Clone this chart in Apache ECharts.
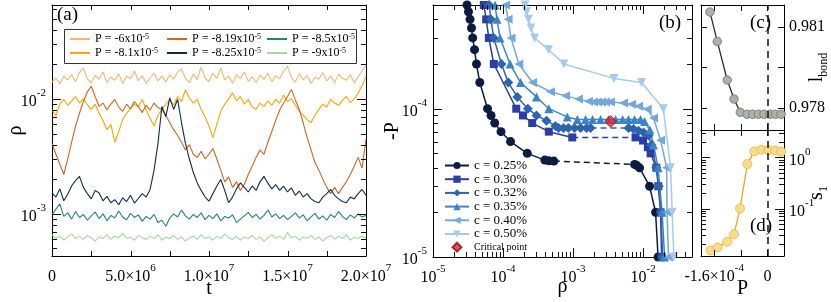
<!DOCTYPE html>
<html><head><meta charset="utf-8">
<script src="https://cdn.jsdelivr.net/npm/echarts@6/dist/echarts.min.js"></script>
<style>html,body{margin:0;padding:0;background:#fff}#c{width:831px;height:302px}</style>
</head><body><div id="c"></div>
<script>
// ================= DATA =================
// Panel (a): rho(t), sampled every T_STEP
const T_STEP = 2.5e5;
const rhoP600 = [0.0140,0.0152,0.0135,0.0158,0.0146,0.0163,0.0141,0.0170,0.0185,0.0150,0.0138,0.0160,0.0148,0.0172,0.0139,0.0155,0.0145,0.0166,0.0136,0.0158,0.0150,0.0175,0.0143,0.0160,0.0137,0.0152,0.0168,0.0144,0.0157,0.0140,0.0162,0.0149,0.0171,0.0182,0.0150,0.0138,0.0165,0.0147,0.0190,0.0152,0.0141,0.0168,0.0150,0.0186,0.0146,0.0158,0.0137,0.0163,0.0150,0.0172,0.0142,0.0156,0.0139,0.0161,0.0148,0.0167,0.0141,0.0159,0.0150,0.0174,0.0192,0.0153,0.0140,0.0166,0.0146,0.0160,0.0136,0.0155,0.0148,0.0170,0.0143,0.0158,0.0139,0.0164,0.0151,0.0145,0.0162,0.0138,0.0156,0.0175,0.0195];
const rhoP810 = [0.0081,0.0071,0.0090,0.0099,0.0088,0.0096,0.0105,0.0092,0.0100,0.0089,0.0081,0.0090,0.0075,0.0065,0.0054,0.0060,0.0042,0.0052,0.0066,0.0075,0.0082,0.0090,0.0085,0.0099,0.0080,0.0068,0.0058,0.0072,0.0081,0.0090,0.0098,0.0088,0.0105,0.0095,0.0120,0.0102,0.0092,0.0099,0.0081,0.0070,0.0058,0.0046,0.0060,0.0078,0.0090,0.0100,0.0113,0.0096,0.0105,0.0090,0.0099,0.0085,0.0081,0.0092,0.0086,0.0096,0.0088,0.0099,0.0092,0.0108,0.0095,0.0100,0.0088,0.0078,0.0072,0.0066,0.0062,0.0072,0.0081,0.0090,0.0085,0.0099,0.0092,0.0088,0.0097,0.0105,0.0093,0.0100,0.0112,0.0130,0.0157];
const rhoP819 = [0.0041,0.0033,0.0027,0.0022,0.0030,0.0042,0.0058,0.0075,0.0095,0.0115,0.0129,0.0105,0.0086,0.0092,0.0080,0.0090,0.0099,0.0085,0.0078,0.0090,0.0082,0.0095,0.0086,0.0076,0.0088,0.0080,0.0092,0.0084,0.0081,0.0072,0.0062,0.0054,0.0048,0.0042,0.0036,0.0040,0.0033,0.0031,0.0035,0.0030,0.0033,0.0037,0.0030,0.0024,0.0019,0.0021,0.0017,0.0019,0.0016,0.0018,0.0022,0.0026,0.0031,0.0036,0.0033,0.0042,0.0052,0.0065,0.0080,0.0092,0.0105,0.0121,0.0098,0.0081,0.0062,0.0046,0.0036,0.0028,0.0024,0.0020,0.0017,0.0015,0.0017,0.0015,0.0017,0.0019,0.0022,0.0026,0.0031,0.0025,0.0045];
const rhoP825 = [0.00152,0.00140,0.00165,0.00130,0.00148,0.00175,0.00195,0.00212,0.00170,0.00150,0.00135,0.00160,0.00152,0.00130,0.00142,0.00125,0.00133,0.00120,0.00138,0.00128,0.00145,0.00124,0.00136,0.00150,0.00140,0.00163,0.00240,0.00410,0.00860,0.00700,0.01020,0.00810,0.00990,0.00620,0.00410,0.00300,0.00230,0.00186,0.00160,0.00140,0.00129,0.00150,0.00175,0.00199,0.00160,0.00125,0.00140,0.00165,0.00186,0.00170,0.00155,0.00175,0.00160,0.00190,0.00212,0.00185,0.00165,0.00180,0.00160,0.00174,0.00155,0.00168,0.00145,0.00158,0.00140,0.00150,0.00135,0.00128,0.00125,0.00140,0.00150,0.00163,0.00145,0.00135,0.00128,0.00125,0.00140,0.00135,0.00150,0.00163,0.00145];
const rhoP850 = [0.00098,0.00110,0.00122,0.00095,0.00102,0.00090,0.00105,0.00093,0.00099,0.00088,0.00096,0.00104,0.00091,0.00100,0.00087,0.00097,0.00092,0.00106,0.00094,0.00089,0.00101,0.00093,0.00098,0.00086,0.00095,0.00090,0.00099,0.00084,0.00088,0.00078,0.00092,0.00100,0.00094,0.00108,0.00096,0.00090,0.00099,0.00093,0.00102,0.00089,0.00097,0.00091,0.00100,0.00087,0.00095,0.00092,0.00098,0.00084,0.00090,0.00096,0.00103,0.00093,0.00099,0.00090,0.00097,0.00108,0.00094,0.00100,0.00091,0.00097,0.00089,0.00095,0.00102,0.00092,0.00098,0.00087,0.00094,0.00101,0.00090,0.00096,0.00088,0.00099,0.00093,0.00105,0.00095,0.00089,0.00098,0.00092,0.00100,0.00094,0.00097];
const rhoP900 = [0.00066,0.00061,0.00064,0.00059,0.00063,0.00067,0.00061,0.00064,0.00060,0.00065,0.00062,0.00058,0.00063,0.00061,0.00066,0.00060,0.00064,0.00062,0.00068,0.00061,0.00063,0.00059,0.00065,0.00062,0.00060,0.00064,0.00061,0.00066,0.00059,0.00063,0.00061,0.00065,0.00060,0.00063,0.00058,0.00062,0.00064,0.00060,0.00066,0.00061,0.00063,0.00059,0.00064,0.00061,0.00067,0.00062,0.00060,0.00064,0.00059,0.00063,0.00061,0.00065,0.00060,0.00063,0.00058,0.00062,0.00066,0.00061,0.00064,0.00060,0.00069,0.00062,0.00064,0.00059,0.00063,0.00061,0.00065,0.00060,0.00063,0.00058,0.00062,0.00065,0.00060,0.00064,0.00061,0.00066,0.00059,0.00063,0.00061,0.00064,0.00062];

// Panel (b): -P vs rho for each concentration (two branches where a jump occurs)
const rho025a = [3.06e-5,3.21e-5,3.38e-5,3.55e-5,3.69e-5,3.92e-5,4.18e-5,4.66e-5,6.01e-5,6.74e-5,7.61e-5,9.36e-5,1.28e-4,2.22e-4,3.95e-4,4.51e-4,5.32e-4];
const negP025a = [5e-4,4.5e-4,4e-4,3.5e-4,3e-4,2.5e-4,2e-4,1.5e-4,1e-4,9e-5,8e-5,7e-5,6e-5,5e-5,4.5e-5,4.45e-5,4.43e-5];
const rho025b = [7.57e-3,8.08e-3,8.92e-3,0.01239,0.0151,0.01638];
const negP025b = [4.21e-5,4.15e-5,3.99e-5,3e-5,2e-5,1e-5];

const rho030a = [5.32e-5,5.75e-5,6.27e-5,7.39e-5,1.545e-4,1.93e-4,2.61e-4,4.51e-4,9.75e-4];
const negP030a = [5e-4,4e-4,3e-4,2e-4,1e-4,9e-5,8e-5,7e-5,6.4e-5];
const rho030b = [7.81e-3,0.0100,0.01172,0.0128,0.01545,0.0165,0.0178,0.0184];
const negP030b = [6.4e-5,6.1e-5,5.5e-5,5e-5,4e-5,3e-5,2e-5,1e-5];

const rho032a = [6.35e-5,6.7e-5,7.39e-5,9.5e-5,1.19e-4,1.6e-4,2.26e-4,3.01e-4,4.18e-4,5.6e-4,6.2e-4,7.3e-4,8.6e-4,1.05e-3,1.28e-3,1.56e-3,1.78e-3];
const negP032a = [5e-4,4e-4,3e-4,2e-4,1.5e-4,1.2e-4,1e-4,9e-5,8.3e-5,7.65e-5,7.4e-5,7.4e-5,7.4e-5,7.4e-5,7.4e-5,7.4e-5,7.4e-5];
const rho032b = [6.21e-3,7.3e-3,8.62e-3,0.01017,0.0120,0.0132,0.0155,0.0168,0.0181,0.0190];
const negP032b = [7.4e-5,7.3e-5,7.1e-5,6.9e-5,6.6e-5,5.7e-5,4e-5,3e-5,2e-5,1e-5];

const rho035 = [7.69e-5,8.2e-5,9.06e-5,1.26e-4,1.78e-4,3.01e-4,4.51e-4,8.26e-4,1.15e-3,1.51e-3,1.9e-3,2.47e-3,3.2e-3,4.05e-3,5.1e-3,6.2e-3,7.57e-3,9.2e-3,0.0105,0.0125,0.0141,0.0164,0.0187,0.0203];
const negP035 = [5e-4,4e-4,3e-4,2e-4,1.5e-4,1.2e-4,1e-4,8.8e-5,8.45e-5,8.45e-5,8.45e-5,8.45e-5,8.45e-5,8.45e-5,8.45e-5,8.45e-5,8.45e-5,8.45e-5,8.2e-5,7.2e-5,5.7e-5,4e-5,2e-5,1e-5];

const rho040 = [1.086e-4,1.18e-4,1.30e-4,1.68e-4,2.64e-4,4.77e-4,7.81e-4,1.2e-3,1.66e-3,1.96e-3,2.24e-3,2.55e-3,2.91e-3,3.43e-3,5.26e-3,6.85e-3,8.62e-3,0.01148,0.0141,0.0178,0.0217,0.0220,0.0231];
const negP040 = [5e-4,4e-4,3e-4,2e-4,1.5e-4,1.3e-4,1.22e-4,1.16e-4,1.12e-4,1.11e-4,1.11e-4,1.11e-4,1.11e-4,1.11e-4,1.09e-4,1.07e-4,1.04e-4,9.9e-5,8.65e-5,6.13e-5,4e-5,2e-5,1e-5];

const rho050 = [2.06e-4,2.17e-4,2.31e-4,2.51e-4,2.82e-4,4.47e-4,7.4e-4,3.83e-3,9.53e-3,0.01945,0.0247,0.0261,0.0275];
const negP050 = [5e-4,4.5e-4,4e-4,3.5e-4,3e-4,2.5e-4,2e-4,1.6e-4,1.5e-4,1e-4,4e-5,2e-5,1e-5];

const rhoCrit = [3.44e-3];
const negPCrit = [8.19e-5];

// Panels (c) and (d)
const pC = [-1.73e-4,-1.51e-4,-1.21e-4,-1.006e-4,-0.816e-4,-0.613e-4,-0.441e-4,-0.272e-4,-0.100e-4,0.073e-4,0.242e-4,0.414e-4];
const lBond = [0.98154,0.98046,0.97904,0.97834,0.97785,0.97778,0.97778,0.97778,0.97778,0.97778,0.97778,0.97778];
const pD = [-1.71e-4,-1.50e-4,-1.21e-4,-1.006e-4,-0.825e-4,-0.604e-4,-0.393e-4,-0.181e-4,0.03e-4,0.233e-4,0.414e-4];
const s1 = [0.0152,0.0174,0.0225,0.0313,0.1,0.739,1.31,1.41,1.39,1.37,1.29];
const P_CRIT = -8.2e-5;

// Tick values and labels
const aXTicks = [2.5e6,5e6,7.5e6,1e7,1.25e7,1.5e7,1.75e7];
const aXLabels = {0:'0',5e6:'5.0×10{s|6}',1e7:'1.0×10{s|7}',1.5e7:'1.5×10{s|7}',2e7:'2.0×10{s|7}'};
const aYMajor = [1e-3, 1e-2];
const bXMajor = [1e-4, 1e-3, 1e-2];
const bYMajor = [1e-4];
const dYMajor = [1e-1, 1];
const cTicks = [0.978, 0.9795, 0.981];
const cLabels = [0.978, 0.981];
const pTicks = [-1.6e-4, -0.8e-4, 0];
const pLabels = [-1.6e-4, 0];

// ================= CHART =================
const FONT = '"Liberation Serif","Times New Roman",serif';
const chart = echarts.init(document.getElementById('c'), null, {renderer:'canvas'});
const RICH = {
  b: {fontFamily: FONT, fontSize: 16, color:'#000', lineHeight: 22, verticalAlign:'bottom'},
  s: {fontFamily: FONT, fontSize: 11, color:'#000', lineHeight: 11, verticalAlign:'top'}
};
function logLabel(v){
  const e = Math.log10(v);
  if (Math.abs(e - Math.round(e)) > 1e-6) return '';
  return '{b|10}{s|' + Math.round(e) + '}';
}
function minorLog(lo, hi){
  const out = [];
  for (let e = Math.floor(Math.log10(lo)); e <= Math.ceil(Math.log10(hi)); e++){
    for (let k = 2; k <= 9; k++){ const v = k*Math.pow(10,e); if (v > lo && v < hi) out.push(v); }
  }
  return out;
}
const AX = {color:'#000', width:1};
function baseAxis(o){
  return Object.assign({
    axisLine:{show:true, onZero:false, lineStyle:AX},
    axisTick:{show:false},
    axisLabel:{show:false, fontFamily:FONT, fontSize:16, color:'#000', rich:RICH},
    splitLine:{show:false},
    nameMoveOverlap:false,
    nameTextStyle:{fontFamily:FONT, fontSize:20, color:'#000'}
  }, o);
}
function merge(a,b){ const r = Object.assign({}, a); for (const k in b){ if (b[k] && typeof b[k]==='object' && !Array.isArray(b[k]) && a[k]) r[k] = Object.assign({}, a[k], b[k]); else r[k]=b[k]; } return r; }

const A_YMIN = 4.3e-4, A_YMAX = 0.0656;
const B_XMIN = 1e-5, B_XMAX = 0.05, B_YMIN = 1e-5, B_YMAX = 5e-4;
const C_YMIN = 0.9772, C_YMAX = 0.9818;
const D_YMIN = 0.0118, D_YMAX = 3.43;
const P_MIN = -2e-4, P_MAX = 0.5e-4;

const grids = [
  {left:52, top:5, width:314, height:251, outerBoundsMode:'none', containLabel:false},
  {left:433, top:5, width:259, height:252, outerBoundsMode:'none', containLabel:false},
  {left:701, top:5, width:83, height:125, outerBoundsMode:'none', containLabel:false},
  {left:701, top:130, width:83, height:126, outerBoundsMode:'none', containLabel:false}
];

const xAxes = [
  merge(baseAxis({gridIndex:0, type:'value', min:0, max:2e7, interval:2.5e6, name:'t', nameLocation:'middle', nameGap:23}),
    {axisLabel:{show:true, margin:7, formatter:v => aXLabels[v] !== undefined ? (v===0?'{b|0}':'{b|'+aXLabels[v].replace('{s|','}{s|')) : ''}}),
  baseAxis({gridIndex:0, type:'value', position:'top', min:0, max:2e7}),
  merge(baseAxis({gridIndex:1, type:'log', min:B_XMIN, max:B_XMAX, name:'ρ', nameLocation:'middle', nameGap:20}),
    {axisLabel:{show:true, margin:7, formatter:logLabel}}),
  baseAxis({gridIndex:1, type:'log', position:'top', min:B_XMIN, max:B_XMAX}),
  baseAxis({gridIndex:2, type:'value', min:P_MIN, max:P_MAX}),
  merge(baseAxis({gridIndex:3, type:'value', min:P_MIN, max:P_MAX, name:'P', nameLocation:'middle', nameGap:23}),
    {axisLabel:{show:true, margin:7, customValues:pLabels,
      formatter:v => Math.abs(v) < 1e-12 ? '{b|0}' : '{b|-1.6×10}{s|-4}'}}),
  baseAxis({gridIndex:2, type:'value', position:'top', min:P_MIN, max:P_MAX}),
  baseAxis({gridIndex:3, type:'value', position:'top', min:P_MIN, max:P_MAX})
];

const SUBRICH = {sub:{fontFamily:FONT, fontSize:12, color:'#000', verticalAlign:'bottom', lineHeight:26}};
const yAxes = [
  merge(baseAxis({gridIndex:0, type:'log', min:A_YMIN, max:A_YMAX, name:'ρ', nameLocation:'middle', nameGap:26, nameRotate:90}),
    {axisLabel:{show:true, margin:6, formatter:logLabel}}),
  baseAxis({gridIndex:0, type:'log', position:'right', min:A_YMIN, max:A_YMAX}),
  merge(baseAxis({gridIndex:1, type:'log', min:B_YMIN, max:B_YMAX, name:'-P', nameLocation:'middle', nameGap:30, nameRotate:90}),
    {axisLabel:{show:true, margin:6, formatter:logLabel}}),
  baseAxis({gridIndex:1, type:'log', position:'right', min:B_YMIN, max:B_YMAX}),
  merge(baseAxis({gridIndex:2, type:'value', position:'right', min:C_YMIN, max:C_YMAX, name:'l{sub|bond}', nameLocation:'middle', nameGap:20, nameRotate:90}),
    {axisLabel:{show:true, margin:5, customValues:cLabels, formatter:v => v.toFixed(3), fontSize:16, rich:{}},
     nameTextStyle:{rich:SUBRICH, lineHeight:20}}),
  baseAxis({gridIndex:2, type:'value', position:'left', min:C_YMIN, max:C_YMAX}),
  merge(baseAxis({gridIndex:3, type:'log', position:'right', min:D_YMIN, max:D_YMAX, name:'s{sub|1}', nameLocation:'middle', nameGap:20, nameRotate:90}),
    {axisLabel:{show:true, margin:5, formatter:logLabel}, nameTextStyle:{rich:SUBRICH, lineHeight:20}}),
  baseAxis({gridIndex:3, type:'log', position:'left', min:D_YMIN, max:D_YMAX})
];

// tick-mark series: mirrored inward ticks placed through the axes' own scales
function tickSeries(xi, yi, vals, dir, ref, len){
  return {
    type:'custom', xAxisIndex:xi, yAxisIndex:yi, silent:true, z:5, clip:false,
    data: vals.map(v => dir==='y' ? [ref, v] : [v, ref]),
    renderItem:(params, api) => {
      const cs = params.coordSys;
      const p = api.coord([api.value(0), api.value(1)]);
      const st = {stroke:'#111', lineWidth:1};
      if (dir==='y'){
        const y = Math.round(p[1])+0.5;
        return {type:'group', children:[
          {type:'line', shape:{x1:cs.x, y1:y, x2:cs.x+len, y2:y}, style:st},
          {type:'line', shape:{x1:cs.x+cs.width, y1:y, x2:cs.x+cs.width-len, y2:y}, style:st}]};
      }
      const x = Math.round(p[0])+0.5;
      return {type:'group', children:[
        {type:'line', shape:{x1:x, y1:cs.y+cs.height, x2:x, y2:cs.y+cs.height-len}, style:st},
        {type:'line', shape:{x1:x, y1:cs.y, x2:x, y2:cs.y+len}, style:st}]};
    }
  };
}

const tsCols = {P600:'#f2b872', P810:'#f9a602', P819:'#d0671c', P825:'#0f2b48', P850:'#1b8a6f', P900:'#a3d99f'};
const tsNames = {P600:'P = -6x10{s|-5}', P810:'P = -8.1x10{s|-5}', P819:'P = -8.19x10{s|-5}', P825:'P = -8.25x10{s|-5}', P850:'P = -8.5x10{s|-5}', P900:'P = -9x10{s|-5}'};
const tsData = {P600:rhoP600, P810:rhoP810, P819:rhoP819, P825:rhoP825, P850:rhoP850, P900:rhoP900};
const series = [];
['P600','P810','P819','P825','P850','P900'].forEach(k => {
  series.push({type:'line', name:k, xAxisIndex:0, yAxisIndex:0, symbol:'none', z:3,
    lineStyle:{color:tsCols[k], width:1.1}, itemStyle:{color:tsCols[k]},
    data: tsData[k].map((v,i) => [i*T_STEP, v])});
});

const zip = (xs, ys) => xs.map((x,i) => [x, ys[i]]);
const bSets = [
  {name:'c = 0.25%', col:'#0b1c40', sym:'circle', size:9, a:[rho025a,negP025a], b:[rho025b,negP025b]},
  {name:'c = 0.30%', col:'#2a3ea6', sym:'rect', size:8, a:[rho030a,negP030a], b:[rho030b,negP030b]},
  {name:'c = 0.32%', col:'#2e63ad', sym:'diamond', size:10, a:[rho032a,negP032a], b:[rho032b,negP032b]},
  {name:'c = 0.35%', col:'#3d84c6', sym:'triangle', size:9, a:[rho035,negP035]},
  {name:'c = 0.40%', col:'#74a8db', sym:'path://M0,5L10,0L10,10Z', size:9, a:[rho040,negP040]},
  {name:'c = 0.50%', col:'#a6cbea', sym:'path://M0,0L10,0L5,10Z', size:9, a:[rho050,negP050]}
];
bSets.forEach(s => {
  const common = {type:'line', name:s.name, xAxisIndex:2, yAxisIndex:2, symbol:s.sym, symbolSize:s.size, z:4,
    lineStyle:{color:s.col, width:1.5}, itemStyle:{color:s.col}, emphasis:{disabled:true}};
  series.push(Object.assign({}, common, {data:zip(s.a[0], s.a[1])}));
  if (s.b){
    series.push(Object.assign({}, common, {data:zip(s.b[0], s.b[1])}));
    const e = s.a[0].length-1;
    series.push({type:'line', name:s.name+' link', xAxisIndex:2, yAxisIndex:2, symbol:'none', z:3,
      lineStyle:{color:s.col, width:1.5, type:[6,4]}, data:[[s.a[0][e], s.a[1][e]],[s.b[0][0], s.b[1][0]]]});
  }
});
series.push({type:'scatter', name:'Critical point', xAxisIndex:2, yAxisIndex:2, symbol:'diamond', symbolSize:12, z:6,
  itemStyle:{color:'#e3262a', borderColor:'#8a1010', borderWidth:0.8}, data:zip(rhoCrit, negPCrit)});

series.push({type:'line', name:'lbond', xAxisIndex:4, yAxisIndex:4, symbol:'circle', symbolSize:8.5, z:4,
  lineStyle:{color:'#2b2b2b', width:1.3}, itemStyle:{color:'#aeb1aa', borderColor:'#6e716b', borderWidth:0.8},
  data:zip(pC, lBond),
  markLine:{silent:true, symbol:'none', label:{show:false}, lineStyle:{color:'#111', width:1.5, type:[7,5]}, data:[{xAxis:P_CRIT}]}});
series.push({type:'line', name:'s1', xAxisIndex:5, yAxisIndex:6, symbol:'circle', symbolSize:9, z:4,
  lineStyle:{color:'#f7a21b', width:1.3}, itemStyle:{color:'#f8dc8e', borderColor:'#f0b040', borderWidth:0.8},
  data:zip(pD, s1),
  markLine:{silent:true, symbol:'none', label:{show:false}, lineStyle:{color:'#111', width:1.5, type:[7,5]}, data:[{xAxis:P_CRIT}]}});

// ticks: (a)
series.push(tickSeries(0, 0, aXTicks, 'x', 1e-3, 5));
series.push(tickSeries(0, 0, aYMajor, 'y', 1e6, 9));
series.push(tickSeries(0, 0, minorLog(A_YMIN, A_YMAX), 'y', 1e6, 5));
// (b)
series.push(tickSeries(2, 2, bXMajor, 'x', 1e-4, 9));
series.push(tickSeries(2, 2, minorLog(B_XMIN, B_XMAX), 'x', 1e-4, 5));
series.push(tickSeries(2, 2, bYMajor, 'y', 1e-3, 9));
series.push(tickSeries(2, 2, minorLog(B_YMIN, B_YMAX), 'y', 1e-3, 5));
// (c)
series.push(tickSeries(4, 4, pTicks, 'x', 0.979, 6));
series.push(tickSeries(4, 4, cTicks, 'y', -1e-4, 6));
// (d)
series.push(tickSeries(5, 6, pTicks, 'x', 0.1, 6));
series.push(tickSeries(5, 6, dYMajor, 'y', -1e-4, 9));
series.push(tickSeries(5, 6, minorLog(D_YMIN, D_YMAX), 'y', -1e-4, 5));

const legText = {fontFamily:FONT, fontSize:12, color:'#000', lineHeight:12, rich:{s:{fontFamily:FONT, fontSize:8, color:'#000', verticalAlign:'top', lineHeight:8}}};
function tsLegend(left, names){
  return {orient:'vertical', left:left, top:33, padding:0, itemWidth:20, itemHeight:10, itemGap:2, data:names,
    formatter:n => tsNames[n], textStyle:legText, selectedMode:false, icon:'path://M0,4L20,4L20,6L0,6Z'};
}

const option = {
  animation:false,
  grid:grids,
  xAxis:xAxes,
  yAxis:yAxes,
  legend:[
    tsLegend(70, ['P600','P810']),
    tsLegend(167, ['P819','P825']),
    tsLegend(267, ['P850','P900']),
    {orient:'vertical', left:444, top:159, padding:0, itemWidth:24, itemHeight:9, itemGap:0.7, selectedMode:false,
      textStyle:{fontFamily:FONT, fontSize:13, color:'#000', lineHeight:12},
      data:['c = 0.25%','c = 0.30%','c = 0.32%','c = 0.35%','c = 0.40%','c = 0.50%',
        {name:'Critical point', icon:'path://M5,0L10,5L5,10L0,5Z', textStyle:{fontSize:10}}]}
  ],
  graphic:[
    {type:'rect', shape:{x:64.5, y:29.5, width:292, height:34}, style:{fill:null, stroke:'#333', lineWidth:1}, z:10},
    {type:'text', left:57, top:6, style:{text:'(a)', font:'19px ' + FONT, fill:'#000'}},
    {type:'text', left:659, top:14, style:{text:'(b)', font:'19px ' + FONT, fill:'#000'}},
    {type:'text', left:750, top:14, style:{text:'(c)', font:'19px ' + FONT, fill:'#000'}},
    {type:'text', left:750, top:217, style:{text:'(d)', font:'19px ' + FONT, fill:'#000'}}
  ],
  series:series
};
chart.setOption(option);
</script>
</body></html>
